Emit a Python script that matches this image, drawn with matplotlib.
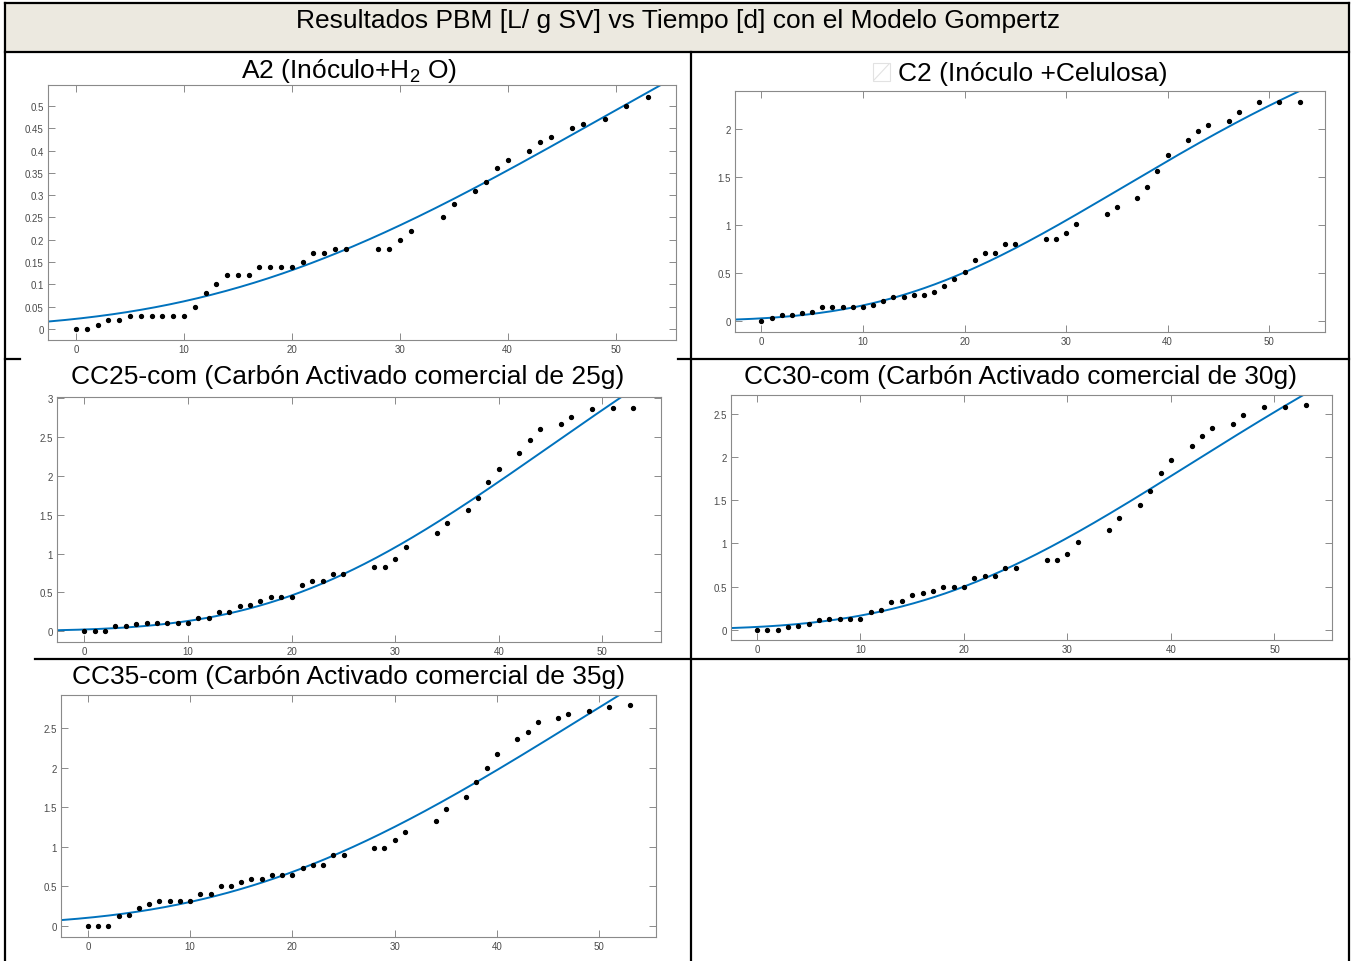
import numpy as np
import matplotlib
matplotlib.use("Agg")
import matplotlib.pyplot as plt
from matplotlib.lines import Line2D
from matplotlib.patches import Rectangle

plt.rcParams["font.family"] = ["Liberation Sans", "DejaVu Sans"]
plt.rcParams["mathtext.fontset"] = "custom"
plt.rcParams["mathtext.rm"] = "Liberation Sans"

W, H = 1353, 962

# sampling days (same for every test)
days = list(range(0, 26)) + [28, 29, 30, 31, 34, 35, 37, 38, 39, 40, 42, 43, 44, 46, 47, 49, 51, 53]

a2 = [0, 0, 0.01, 0.02, 0.02, 0.03, 0.03, 0.03, 0.03, 0.03, 0.03, 0.05, 0.08, 0.10, 0.12, 0.12,
      0.12, 0.14, 0.14, 0.14, 0.14, 0.15, 0.17, 0.17, 0.18, 0.18,
      0.18, 0.18, 0.20, 0.22, 0.25, 0.28, 0.31, 0.33, 0.36, 0.38, 0.40, 0.42, 0.43, 0.45, 0.46,
      0.47, 0.50, 0.52]
c2 = [0, 0.03, 0.06, 0.06, 0.08, 0.09, 0.15, 0.15, 0.15, 0.15, 0.15, 0.17, 0.21, 0.25, 0.25, 0.27,
      0.27, 0.30, 0.37, 0.44, 0.51, 0.64, 0.71, 0.71, 0.80, 0.80,
      0.86, 0.86, 0.92, 1.01, 1.12, 1.19, 1.28, 1.40, 1.57, 1.73, 1.89, 1.98, 2.04, 2.09, 2.18,
      2.28, 2.28, 2.29]
cc25 = [0, 0, 0, 0.07, 0.07, 0.09, 0.11, 0.11, 0.11, 0.11, 0.11, 0.17, 0.17, 0.25, 0.25, 0.32,
        0.34, 0.39, 0.44, 0.44, 0.44, 0.59, 0.64, 0.64, 0.73, 0.73,
        0.83, 0.83, 0.93, 1.09, 1.27, 1.39, 1.56, 1.72, 1.92, 2.09, 2.29, 2.46, 2.60, 2.67, 2.76,
        2.86, 2.87, 2.88]
cc30 = [0, 0, 0, 0.03, 0.04, 0.07, 0.11, 0.12, 0.12, 0.12, 0.12, 0.20, 0.23, 0.32, 0.33, 0.40,
        0.42, 0.45, 0.50, 0.50, 0.50, 0.60, 0.62, 0.62, 0.72, 0.72,
        0.81, 0.81, 0.88, 1.02, 1.15, 1.29, 1.45, 1.61, 1.82, 1.97, 2.13, 2.25, 2.34, 2.38, 2.49,
        2.58, 2.58, 2.60]
cc35 = [0, 0, 0, 0.12, 0.14, 0.22, 0.28, 0.31, 0.31, 0.31, 0.31, 0.40, 0.40, 0.50, 0.50, 0.55,
        0.59, 0.59, 0.64, 0.64, 0.64, 0.73, 0.77, 0.77, 0.89, 0.89,
        0.98, 0.98, 1.08, 1.19, 1.33, 1.47, 1.63, 1.82, 1.99, 2.17, 2.36, 2.45, 2.57, 2.63, 2.68,
        2.72, 2.76, 2.79]

# Gompertz parameters (P, Rm, lambda) estimated from the fitted curves
gomp_a2 = (1.30, 0.0136, 13.95)
gomp_c2 = (3.80, 0.0626, 13.3)
gomp_cc25 = (6.50, 0.0931, 19.35)
gomp_cc30 = (5.25, 0.0751, 16.3)
gomp_cc35 = (7.40, 0.0802, 15.6)

titles = [
    "A2 (Inóculo+H$_\\mathrm{2}$ O)",
    "C2 (Inóculo +Celulosa)",
    "CC25-com (Carbón Activado comercial de 25g)",
    "CC30-com (Carbón Activado comercial de 30g)",
    "CC35-com (Carbón Activado comercial de 35g)",
]
series = [a2, c2, cc25, cc30, cc35]
params = [gomp_a2, gomp_c2, gomp_cc25, gomp_cc30, gomp_cc35]
yticks = [np.arange(0, 0.51, 0.05), np.arange(0, 2.01, 0.5), np.arange(0, 3.01, 0.5),
          np.arange(0, 2.51, 0.5), np.arange(0, 2.51, 0.5)]
ytick_labels = [
    ["0", "0.05", "0.1", "0.15", "0.2", "0.25", "0.3", "0.35", "0.4", "0.45", "0.5"],
    ["0", "0.5", "1", "1.5", "2"],
    ["0", "0.5", "1", "1.5", "2", "2.5", "3"],
    ["0", "0.5", "1", "1.5", "2", "2.5"],
    ["0", "0.5", "1", "1.5", "2", "2.5"],
]
xlims = [(-2.6, 55.6), (-2.6, 55.5), (-2.64, 55.66), (-2.5, 55.56), (-2.63, 55.56)]
ylims = [(-0.0246, 0.547), (-0.115, 2.40), (-0.141, 3.018), (-0.12, 2.72), (-0.143, 2.917)]

# layout in pixels: axes (left, top, right, bottom), title centre (x, y)
ax_boxes = [(48, 86, 676, 341), (735, 92, 1325, 333), (57, 398, 661, 643),
            (731, 396, 1332, 641), (61, 696, 656, 938)]
title_pos = [(349, 71), (1033, 74), (348, 377), (1020, 377), (348, 677)]

BLUE = "#0072BD"
AX_GRAY = "#8a8a8a"

fig = plt.figure(figsize=(W / 100, H / 100), dpi=100)
fig.patch.set_facecolor("white")


def fx(x):
    return x / W


def fy(y):
    return 1 - y / H


def gompertz(t, p):
    P, rm, lam = p
    return P * np.exp(-np.exp(rm * np.e / P * (lam - t) + 1))


# table: header band and cell borders
fig.patches.append(Rectangle((fx(5), fy(53)), fx(1349) - fx(5), fy(4) - fy(53),
                             transform=fig.transFigure, facecolor="#ECE9E0", edgecolor="none", zorder=0))
segments = [
    ((5, 1349), (4, 4)), ((5, 1349), (53, 53)),
    ((5, 5), (4, 962)), ((1349, 1349), (4, 962)),
    ((691, 691), (53, 962)),
    ((5, 20), (360, 360)), ((678, 1349), (360, 360)),
    ((35, 1349), (660, 660)),
]
for xs, ys in segments:
    fig.lines.append(Line2D([fx(v) for v in xs], [fy(v) for v in ys], transform=fig.transFigure,
                            color="black", linewidth=1.6, zorder=5))

fig.text(fx(678), fy(21), "Resultados PBM [L/ g SV] vs Tiempo [d] con el Modelo Gompertz",
         ha="center", va="center", fontsize=19)

# faint broken-image icon before the C2 title
fig.patches.append(Rectangle((fx(873), fy(82)), fx(890) - fx(873), fy(64) - fy(82),
                             transform=fig.transFigure, facecolor="none", edgecolor="#e2e2e2", linewidth=0.8))
fig.lines.append(Line2D([fx(874), fx(889)], [fy(81), fy(65)], transform=fig.transFigure,
                        color="#e2e2e2", linewidth=0.8))

for i in range(5):
    l, t, r, b = ax_boxes[i]
    ax = fig.add_axes([fx(l), fy(b), fx(r) - fx(l), fy(t) - fy(b)])
    x0, x1 = xlims[i]
    tt = np.linspace(x0, x1, 400)
    ax.plot(tt, gompertz(tt, params[i]), color=BLUE, linewidth=1.4, zorder=2)
    ax.plot(days, series[i], "o", color="black", markersize=2.8, zorder=3)
    ax.set_xlim(x0, x1)
    ax.set_ylim(*ylims[i])
    ax.set_xticks(range(0, 51, 10))
    ax.set_yticks(yticks[i])
    ax.set_yticklabels(ytick_labels[i])
    ax.tick_params(direction="in", length=5, width=0.7, color=AX_GRAY, labelsize=7,
                   labelcolor="#4a4a4a", top=True, right=True, pad=3)
    for sp in ax.spines.values():
        sp.set_color(AX_GRAY)
        sp.set_linewidth(0.8)
    cx, cy = title_pos[i]
    fig.text(fx(cx), fy(cy), titles[i], ha="center", va="center", fontsize=19)

fig.savefig("out.png", dpi=100, facecolor="white")
